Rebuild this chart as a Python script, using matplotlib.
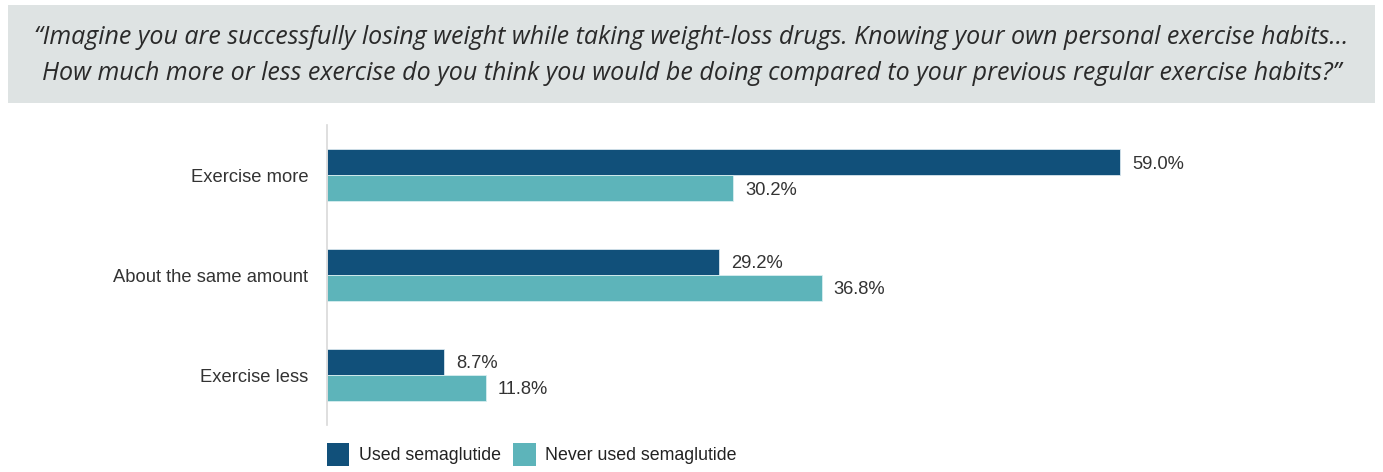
import matplotlib.pyplot as plt
from matplotlib.patches import Rectangle, Patch

categories = ["Exercise more", "About the same amount", "Exercise less"]
used = [59.0, 29.2, 8.7]
never_used = [30.2, 36.8, 11.8]
series_names = ["Used semaglutide", "Never used semaglutide"]

question_lines = [
    "\u201cImagine you are successfully losing weight while taking weight-loss drugs. "
    "Knowing your own personal exercise habits\u2026",
    "How much more or less exercise do you think you would be doing compared to "
    "your previous regular exercise habits?\u201d",
]

dark = "#11507a"
light = "#5db4ba"

W, H = 1383, 472
fig = plt.figure(figsize=(W / 100, H / 100), dpi=100)

# grey question banner
fig.patches.append(Rectangle((8 / W, 1 - 103 / H), 1367 / W, 98 / H,
                             transform=fig.transFigure, facecolor="#dee3e3",
                             edgecolor="none", zorder=0))
for line, ypx in zip(question_lines, (37, 74)):
    fig.text(0.5, 1 - ypx / H, line, ha="center", va="center",
             fontfamily="Open Sans", fontstyle="italic", fontsize=18.0,
             color="#2a2a2a")

# axes placed in pixel units: x from 327 to 1200, y from 125 to 425
ax = fig.add_axes([327 / W, 1 - 425 / H, (1200 - 327) / W, 300 / H])
ax.set_xlim(0, (1200 - 327) / 13.44)
ax.set_ylim(2.5, -0.5)

y = list(range(len(categories)))
h = 0.26
b1 = ax.barh([v - h / 2 for v in y], used, height=h, color=dark,
             edgecolor="#d8e6ee", linewidth=0.6)
b2 = ax.barh([v + h / 2 for v in y], never_used, height=h, color=light,
             edgecolor="#d8eef0", linewidth=0.6)

lab_font = dict(fontfamily="Liberation Sans", fontsize=13.2, color="#333333")
for bars, vals in ((b1, used), (b2, never_used)):
    for bar, v in zip(bars, vals):
        ax.text(v + 0.9, bar.get_y() + bar.get_height() / 2 + 0.02, f"{v:.1f}%",
                va="center", ha="left", **lab_font)

ax.set_yticks(y)
ax.set_yticklabels(categories, **lab_font)
ax.tick_params(axis="y", length=0, pad=13.5)
ax.set_xticks([])
for s in ("top", "right", "bottom"):
    ax.spines[s].set_visible(False)
ax.spines["left"].set_color("#d9d9d9")
ax.spines["left"].set_linewidth(1.2)

handles = [Patch(facecolor=dark, edgecolor="none"),
           Patch(facecolor=light, edgecolor="none")]
fig.legend(handles, series_names, loc="lower left",
           bbox_to_anchor=(311 / W, -10 / H), ncol=2, frameon=False,
           prop=dict(family="Liberation Sans", size=12.8),
           handlelength=1.25, handleheight=1.6, handletextpad=0.55,
           columnspacing=0.7, labelcolor="#222222")

fig.savefig("out.png", dpi=100)
